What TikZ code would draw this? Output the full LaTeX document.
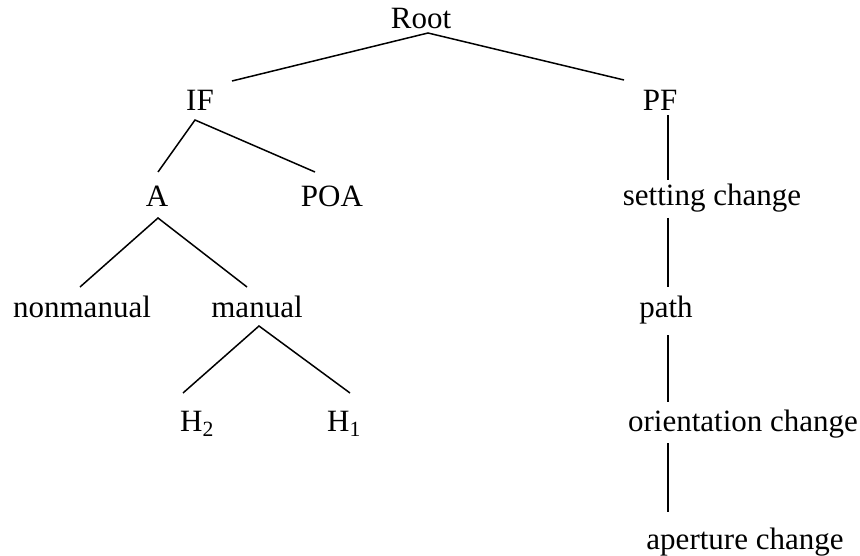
\documentclass[tikz,border=0pt]{standalone}
\usepackage{fontspec}
\setmainfont{Liberation Serif}
\begin{document}
\begin{tikzpicture}[x=1pt,y=-1pt,
  lbl/.style={font=\fontsize{31}{34}\selectfont, inner sep=0pt, anchor=base},
  edge/.style={draw=black, line width=1.5pt}]
\useasboundingbox (0,0) rectangle (860,556);
% labels
\node[lbl] (root) at (421,29) {Root};
\node[lbl] (IF) at (200,111) {IF};
\node[lbl] (PF) at (660,111) {PF};
\node[lbl] (A) at (157,207) {A};
\node[lbl] (POA) at (332,207) {POA};
\node[lbl] (nonman) at (82,318) {nonmanual};
\node[lbl] (manual) at (257,318) {manual};
\node[lbl] (H2) at (197,431) {H\textsubscript{2}};
\node[lbl] (H1) at (344,431) {H\textsubscript{1}};
\node[lbl] (setting) at (712,206) {setting change};
\node[lbl] (path) at (666,318) {path};
\node[lbl] (orient) at (743,431) {orientation change};
\node[lbl] (aperture) at (745,549) {aperture change};
% connector ends
\coordinate (root-b) at (428,33);
\coordinate (IF-t) at (232,81);
\coordinate (PF-t) at (624,80);
\coordinate (IF-b) at (195,120);
\coordinate (A-t) at (158,172);
\coordinate (POA-t) at (315,172);
\coordinate (A-b) at (158,218);
\coordinate (nonman-t) at (80,287);
\coordinate (manual-t) at (247,287);
\coordinate (manual-b) at (259,326);
\coordinate (H2-t) at (183,393);
\coordinate (H1-t) at (350,393);
\coordinate (PF-b) at (668,115);
\coordinate (setting-t) at (668,180);
\coordinate (setting-b) at (668,218);
\coordinate (path-t) at (668,287);
\coordinate (path-b) at (668,335);
\coordinate (orient-t) at (668,402);
\coordinate (orient-b) at (668,443);
\coordinate (aperture-t) at (668,512);
% connectors
\draw[edge] (IF-t) -- (root-b) -- (PF-t);
\draw[edge] (A-t) -- (IF-b) -- (POA-t);
\draw[edge] (nonman-t) -- (A-b) -- (manual-t);
\draw[edge] (H2-t) -- (manual-b) -- (H1-t);
\draw[edge] (PF-b) -- (setting-t);
\draw[edge] (setting-b) -- (path-t);
\draw[edge] (path-b) -- (orient-t);
\draw[edge] (orient-b) -- (aperture-t);
\end{tikzpicture}
\end{document}
